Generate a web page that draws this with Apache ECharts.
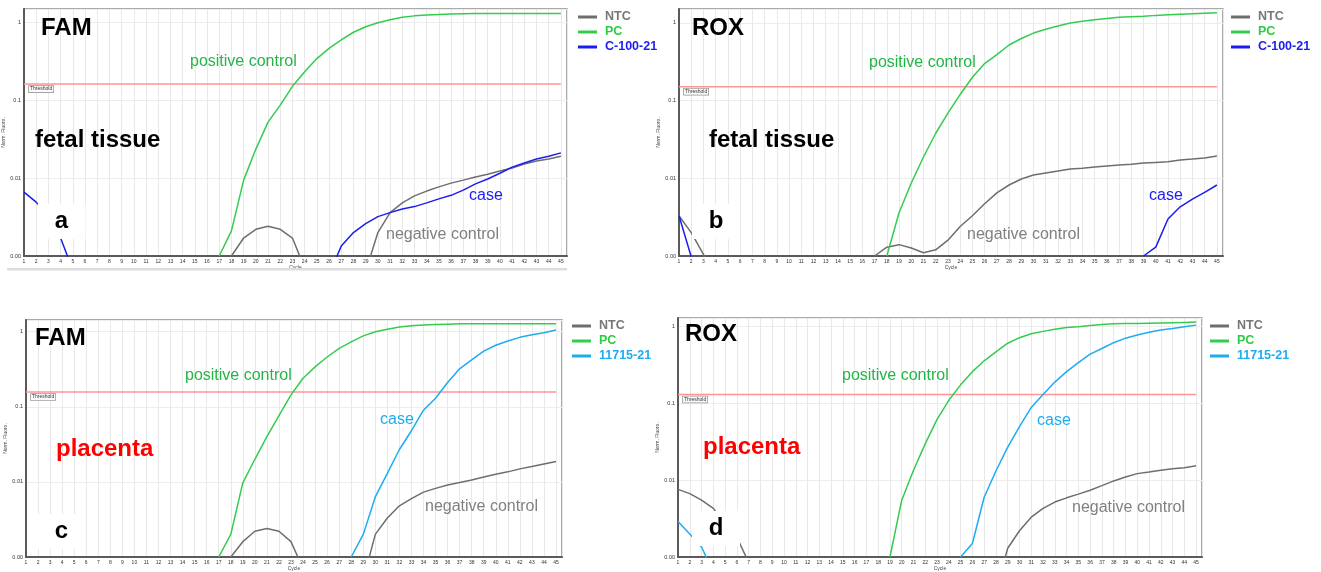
<!DOCTYPE html>
<html><head><meta charset="utf-8">
<script src="https://cdn.jsdelivr.net/npm/echarts@6/dist/echarts.min.js"></script>
<style>html,body{margin:0;padding:0;background:#fff}#c{width:1321px;height:572px}</style>
</head><body><div id="c"></div>
<script>
// ---------------- data ----------------
const CYCLES = [1,2,3,4,5,6,7,8,9,10,11,12,13,14,15,16,17,18,19,20,21,22,23,24,25,26,27,28,29,30,31,32,33,34,35,36,37,38,39,40,41,42,43,44,45];
const Y_TICK_LABELS = {'-3':'0.00','-2':'0.01','-1':'0.1','0':'1'};
const SERIES_NAMES = ['NTC','PC'];
const CASE_NAMES = ['C-100-21','C-100-21','11715-21','11715-21'];
const THRESHOLDS = [0.16, 0.151, 0.157, 0.131];

// panel a : FAM, fetal tissue
const A_NTC = [null,null,null,null,null,null,null,null,null,null,null,null,null,null,null,null,null,
  0.001,0.0017,0.0022,0.0024,0.0022,0.0017,0.0007,null,null,null,null,
  0.00063,0.002,0.0036,0.0048,0.0059,0.0068,0.0077,0.0086,0.0094,0.0103,0.0112,0.0123,0.0134,0.0151,0.0165,0.0175,0.019];
const A_PC = [null,null,null,null,null,null,null,null,null,null,null,null,null,null,null,null,
  0.001,0.0021,0.0094,0.0235,0.052,0.086,0.15,0.23,0.34,0.46,0.59,0.74,0.87,0.98,1.07,1.15,1.2,1.23,1.25,1.27,1.28,
  1.29,1.29,1.29,1.29,1.29,1.29,1.29,1.29];
const A_CASE = [0.0066,0.0049,0.003,0.0017,0.00066,null,null,null,null,null,null,null,null,null,null,null,null,null,null,null,null,null,null,null,null,
  0.00058,0.00134,0.002,0.0026,0.0032,0.0036,0.004,0.0043,0.0048,0.0054,0.006,0.007,0.0084,0.0097,0.0115,0.0138,0.0156,0.0175,0.019,0.021];

// panel b : ROX, fetal tissue
const B_NTC = [0.0033,0.002,0.00105,0.0005,null,null,null,null,null,null,null,null,null,null,null,null,
  0.001,0.0013,0.0014,0.00127,0.0011,0.0012,0.0016,0.0024,0.0033,0.0047,0.0065,0.0082,0.0098,0.011,0.0117,0.0124,0.0132,0.0135,0.014,0.0144,0.0148,0.0152,0.0157,0.016,0.0163,0.0172,0.0177,0.0183,0.0194];
const B_PC = [null,null,null,null,null,null,null,null,null,null,null,null,null,null,null,null,null,
  0.001,0.0036,0.0087,0.0188,0.038,0.069,0.12,0.2,0.3,0.39,0.52,0.63,0.74,0.83,0.91,1.0,1.05,1.1,1.14,1.18,1.2,1.22,1.25,1.27,1.29,1.31,1.33,1.35];
const B_CASE = [0.0033,0.00098,null,null,null,null,null,null,null,null,null,null,null,null,null,null,null,null,null,null,null,null,null,null,null,null,null,null,null,null,null,null,null,null,null,null,null,null,
  0.001,0.0013,0.003,0.0043,0.0054,0.0066,0.0082];

// panel c : FAM, placenta
const C_NTC = [null,null,null,null,null,null,null,null,null,null,null,null,null,null,null,null,null,
  0.001,0.0016,0.0022,0.0024,0.0022,0.0016,0.0007,null,null,null,null,
  0.0005,0.002,0.0033,0.0048,0.006,0.0073,0.0082,0.0091,0.0098,0.0106,0.0116,0.0126,0.0136,0.0149,0.016,0.0173,0.0187];
const C_PC = [null,null,null,null,null,null,null,null,null,null,null,null,null,null,null,null,
  0.001,0.002,0.0097,0.02,0.04,0.076,0.144,0.24,0.34,0.46,0.6,0.73,0.88,1.0,1.08,1.15,1.2,1.23,1.25,1.26,
  1.27,1.27,1.27,1.27,1.27,1.27,1.27,1.27,1.27];
const C_CASE = [null,null,null,null,null,null,null,null,null,null,null,null,null,null,null,null,null,null,null,null,null,null,null,null,null,null,null,
  0.001,0.002,0.0063,0.013,0.027,0.048,0.09,0.13,0.21,0.32,0.42,0.55,0.66,0.75,0.84,0.91,0.97,1.05];

// panel d : ROX, placenta
const D_NTC = [0.0076,0.0067,0.0055,0.0043,0.0027,0.0018,0.00085,null,null,null,null,null,null,null,null,null,null,null,null,null,null,null,null,null,null,null,null,
  0.00036,0.0013,0.0022,0.0033,0.0043,0.0052,0.0059,0.0066,0.0074,0.0085,0.0098,0.011,0.0122,0.0128,0.0135,0.0141,0.0146,0.0154];
const D_PC = [null,null,null,null,null,null,null,null,null,null,null,null,null,null,null,null,null,null,
  0.001,0.0055,0.0135,0.03,0.062,0.11,0.175,0.26,0.36,0.47,0.61,0.72,0.81,0.87,0.93,0.98,1.0,1.04,1.07,1.09,1.1,1.1,1.11,1.12,1.13,1.14,1.15];
const D_CASE = [0.0029,0.002,0.00135,0.00063,null,null,null,null,null,null,null,null,null,null,null,null,null,null,null,null,null,null,null,null,
  0.001,0.0015,0.006,0.0132,0.027,0.05,0.089,0.131,0.19,0.26,0.34,0.44,0.52,0.62,0.71,0.78,0.85,0.91,0.95,1.0,1.05];

// ---------------- layout / style ----------------
const FONT = 'Arial, "Liberation Sans", sans-serif';
const C_NTC_COL = '#6e6e6e', C_PC_COL = '#33cc4f', C_BLUE = '#1c1cf2', C_LBLUE = '#1eacf0', C_THR = '#ff9494';
const PANELS = [
  {ntc:A_NTC, pc:A_PC, cs:A_CASE, col:C_BLUE, ymax:1.47, grid:{left:24, top:9, width:543, height:247}, leg:{left:578, top:10}},
  {ntc:B_NTC, pc:B_PC, cs:B_CASE, col:C_BLUE, ymax:1.51, grid:{left:679, top:9, width:544, height:247}, leg:{left:1231, top:10}},
  {ntc:C_NTC, pc:C_PC, cs:C_CASE, col:C_LBLUE, ymax:1.43, grid:{left:26, top:320, width:536, height:243}, leg:{left:572, top:319}},
  {ntc:D_NTC, pc:D_PC, cs:D_CASE, col:C_LBLUE, ymax:1.30, grid:{left:678, top:318, width:524, height:239}, leg:{left:1210, top:319}}
];

function pairs(arr){ return CYCLES.map((c,i)=> [c, arr[i] == null ? '-' : arr[i]]); }
function yfmt(v){
  const l = Math.log10(v), k = Math.round(l);
  if (Math.abs(l-k) > 1e-6) return '';
  return Y_TICK_LABELS[String(k)] || '';
}

const grids=[], xAxes=[], yAxes=[], series=[], legends=[];
PANELS.forEach((p,i)=>{
  grids.push(Object.assign({show:true, borderColor:'#8e8e8e', borderWidth:1.5, containLabel:false}, p.grid));
  xAxes.push({type:'value', gridIndex:i, min:1, max:45.5, interval:1,
    name:'Cycle', nameLocation:'middle', nameGap:9, nameTextStyle:{fontSize:5, color:'#444', fontFamily:FONT},
    axisLine:{show:true, onZero:false, lineStyle:{color:'#5a5a5a', width:2}},
    axisTick:{show:false},
    axisLabel:{fontSize:5, color:'#333', margin:3, fontFamily:FONT, formatter:v=> Number.isInteger(v)? String(v):''},
    splitLine:{show:true, lineStyle:{color:'#e8e8e8', width:1}}});
  yAxes.push({type:'log', logBase:10, gridIndex:i, min:0.001, max:p.ymax,
    name:'Norm. Fluoro.', nameLocation:'middle', nameGap:10, nameTextStyle:{fontSize:5, color:'#444', fontFamily:FONT},
    axisLine:{show:true, lineStyle:{color:'#5a5a5a', width:2}},
    axisTick:{show:false},
    axisLabel:{fontSize:5.5, color:'#333', margin:3, fontFamily:FONT, formatter:yfmt, showMinLabel:true},
    splitLine:{show:true, lineStyle:{color:'#ededed', width:1}}, minorSplitLine:{show:false}});
  const base = {type:'line', xAxisIndex:i, yAxisIndex:i, symbol:'none', showSymbol:false, silent:true, clip:true, connectNulls:false};
  series.push(Object.assign({}, base, {name:'thr'+i, data:[[1,THRESHOLDS[i]],[45,THRESHOLDS[i]]], lineStyle:{color:C_THR, width:1.5}, itemStyle:{color:C_THR}, z:2}));
  series.push(Object.assign({}, base, {name:SERIES_NAMES[0], data:pairs(p.ntc), lineStyle:{color:C_NTC_COL, width:1.5}, itemStyle:{color:C_NTC_COL}, z:3}));
  series.push(Object.assign({}, base, {name:CASE_NAMES[i], data:pairs(p.cs), lineStyle:{color:p.col, width:1.5}, itemStyle:{color:p.col}, z:4}));
  series.push(Object.assign({}, base, {name:SERIES_NAMES[1], data:pairs(p.pc), lineStyle:{color:C_PC_COL, width:1.5}, itemStyle:{color:C_PC_COL}, z:5}));
  legends.push({left:p.leg.left, top:p.leg.top, orient:'vertical', icon:'rect', itemWidth:19, itemHeight:3, itemGap:1, padding:0,
    selectedMode:false,
    textStyle:{fontSize:12.5, fontWeight:'bold', fontFamily:FONT, lineHeight:14, padding:[0,0,0,3]},
    data:[{name:SERIES_NAMES[0], textStyle:{color:'#777777'}},
          {name:SERIES_NAMES[1], textStyle:{color:'#2ecc44'}},
          {name:CASE_NAMES[i], textStyle:{color:p.col}}]});
});

const chart = echarts.init(document.getElementById('c'), null, {renderer:'canvas'});
chart.setOption({animation:false, backgroundColor:'#fff', grid:grids, xAxis:xAxes, yAxis:yAxes, series:series, legend:legends});

// ---------------- annotations ----------------
function txt(text, x, y, size, color, bold, z){
  return {type:'text', x:x, y:y, z:z||20, silent:true,
    style:{text:text, fill:color, font:(bold?'bold ':'')+size+'px '+FONT, textAlign:'left', textVerticalAlign:'middle'}};
}
function letter(text, cx, cy){
  return [{type:'rect', shape:{x:cx-24, y:cy-17.5, width:48, height:35}, style:{fill:'#fff'}, z:50, silent:true},
          {type:'text', x:cx, y:cy, z:51, silent:true, style:{text:text, fill:'#000', font:'bold 24px '+FONT, textAlign:'center', textVerticalAlign:'middle'}}];
}
const G = [];
G.push({type:'rect', shape:{x:7, y:268, width:560, height:2.5}, style:{fill:'#dcdcdc'}, z:1, silent:true});
// panel a
G.push(txt('FAM', 41, 28.5, 24, '#000', true));
G.push(txt('fetal tissue', 35, 140, 24, '#000', true));
G.push(txt('positive control', 190, 62, 16, '#23b548'));
G.push(txt('case', 469, 196, 16, C_BLUE));
G.push(txt('negative control', 386, 235, 16, '#808080'));
G.push(...letter('a', 61.5, 221.5));
// panel b
G.push(txt('ROX', 692, 28.5, 24, '#000', true));
G.push(txt('fetal tissue', 709, 140, 24, '#000', true));
G.push(txt('positive control', 869, 63, 16, '#23b548'));
G.push(txt('case', 1149, 196, 16, C_BLUE));
G.push(txt('negative control', 967, 235, 16, '#808080'));
G.push(...letter('b', 716, 221.5));
// panel c
G.push(txt('FAM', 35, 338.5, 24, '#000', true));
G.push(txt('placenta', 56, 449, 24, '#ff0000', true));
G.push(txt('positive control', 185, 376, 16, '#23b548'));
G.push(txt('case', 380, 420, 16, C_LBLUE));
G.push(txt('negative control', 425, 506.5, 16, '#808080'));
G.push(...letter('c', 61.5, 531.5));
// panel d
G.push(txt('ROX', 685, 334, 24, '#000', true));
G.push(txt('placenta', 703, 447, 24, '#ff0000', true));
G.push(txt('positive control', 842, 376, 16, '#23b548'));
G.push(txt('case', 1037, 420.5, 16, C_LBLUE));
G.push(txt('negative control', 1072, 507.5, 16, '#808080'));
G.push(...letter('d', 716, 528.5));
// threshold tags
PANELS.forEach((p,i)=>{
  const pt = chart.convertToPixel({xAxisIndex:i, yAxisIndex:i}, [1, THRESHOLDS[i]]);
  G.push({type:'text', x:pt[0]+5, y:pt[1]+2, z:30, silent:true,
    style:{text:'Threshold', fill:'#333', font:'5px '+FONT, textAlign:'left', textVerticalAlign:'top',
      backgroundColor:'#fafafa', borderColor:'#999', borderWidth:0.8, padding:[0.5,1]}});
});
chart.setOption({graphic:G});
</script></body></html>
